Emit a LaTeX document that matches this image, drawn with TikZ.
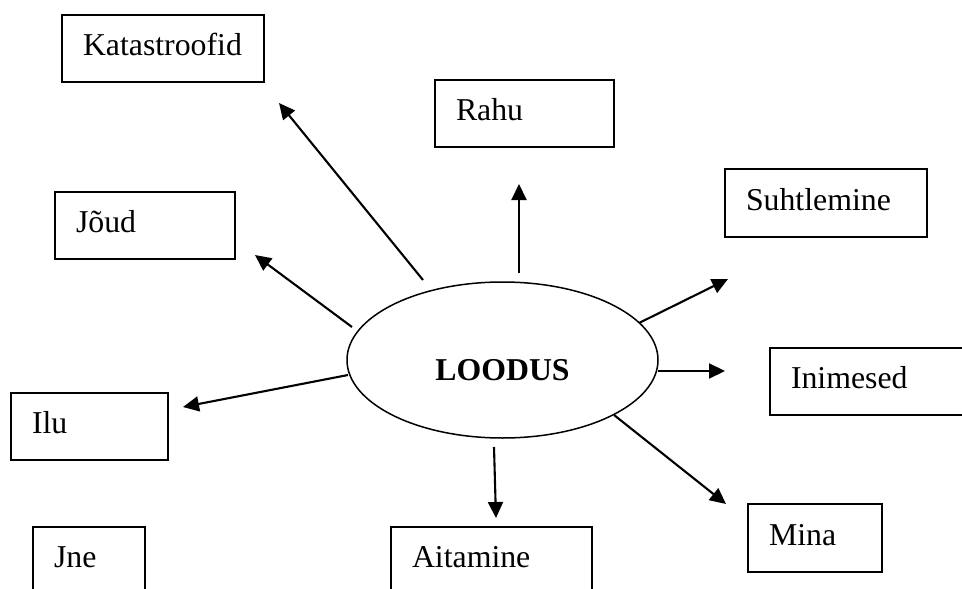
\documentclass[tikz,border=0pt]{standalone}
\usepackage{fontspec}
\setmainfont{Liberation Serif}
\usetikzlibrary{arrows.meta,shapes.geometric}
\begin{document}
\begin{tikzpicture}[x=1pt,y=-1pt,
  box/.style={draw, line width=2pt, anchor=north west, outer sep=0pt,
    inner xsep=21pt, inner ysep=0pt, align=left, text height=20pt, text depth=6pt,
    font=\fontsize{31.8}{36}\selectfont},
  arr/.style={-{Triangle[length=16pt,width=15pt]}, line width=2.1pt}]
\useasboundingbox (0,0) rectangle (962,589);
\clip (0,0) rectangle (962,589);

\node[box, text width=160pt, minimum height=67pt] (kat) at (62,15) {Katastroofid};
\node[box, text width=137pt, minimum height=67pt] (rahu) at (435,80) {Rahu};
\node[box, text width=160pt, minimum height=68pt] (suht) at (725,169) {Suhtlemine};
\node[box, text width=138pt, minimum height=67pt] (joud) at (55,192) {Jõud};
\node[box, text width=115pt, minimum height=67pt] (ilu) at (11,393) {Ilu};
\node[box, text width=158pt, minimum height=67pt] (inim) at (770,348) {Inimesed};
\node[box, text width=70pt, minimum height=67pt] (jne) at (33,527) {Jne};
\node[box, text width=159pt, minimum height=67pt] (ait) at (391,527) {Aitamine};
\node[box, text width=92pt, minimum height=68pt] (mina) at (748,504) {Mina};

\node[ellipse, draw, line width=1.5pt, minimum width=311pt, minimum height=156pt,
  inner sep=0pt, font=\fontsize{31.8}{36}\selectfont\bfseries,
  text height=40pt, text depth=0pt] (c) at (502.5,360) {LOODUS};

\coordinate (s1) at (423,280); \coordinate (t1) at (279,103);
\coordinate (s2) at (519,273); \coordinate (t2) at (519,184);
\coordinate (s3) at (639,323); \coordinate (t3) at (728,279);
\coordinate (s4) at (352,327); \coordinate (t4) at (255,255);
\coordinate (s5) at (348,375); \coordinate (t5) at (183,407);
\coordinate (s6) at (658,371); \coordinate (t6) at (725,371);
\coordinate (s7) at (614,415); \coordinate (t7) at (726,504);
\coordinate (s8) at (494,447); \coordinate (t8) at (496,518);

\foreach \i in {1,...,8} \draw[arr] (s\i) -- (t\i);
\end{tikzpicture}
\end{document}
